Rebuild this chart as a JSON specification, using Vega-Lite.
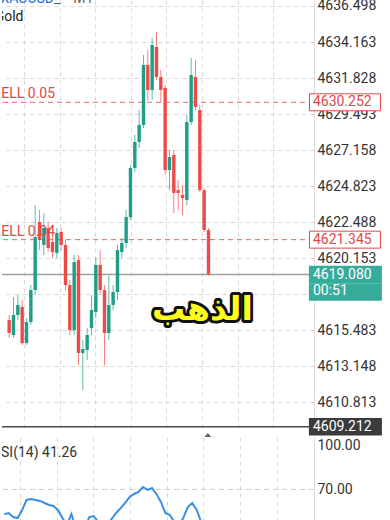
{
  "$schema": "https://vega.github.io/schema/vega-lite/v6.json",
  "padding": {"left": 0, "right": 0, "top": -2, "bottom": 0},
  "background": "white",
  "bounds": "flush",
  "spacing": 7,
  "resolve": {"scale": {"y": "independent"}},
  "config": {
    "view": {"stroke": null},
    "font": "Roboto",
    "axis": {
      "labelFont": "Roboto",
      "labelFontSize": 14,
      "labelColor": "#333333",
      "labelOverlap": false,
      "labelFlush": false,
      "ticks": false,
      "labelPadding": 3,
      "domainColor": "#dcdcdc",
      "gridColor": "#d6d6d6",
      "gridDash": [4, 4],
      "title": null
    }
  },
  "datasets": {
    "candles": [
      {"i":1,"o":4616.13,"c":4615.29,"h":4616.46,"l":4614.97},
      {"i":2,"o":4615.16,"c":4616.46,"h":4617.62,"l":4614.97},
      {"i":3,"o":4616.46,"c":4617.11,"h":4617.75,"l":4616.13},
      {"i":4,"o":4616.98,"c":4614.64,"h":4617.43,"l":4614.51},
      {"i":5,"o":4614.64,"c":4616.00,"h":4616.26,"l":4614.51},
      {"i":6,"o":4616.00,"c":4618.08,"h":4618.40,"l":4615.81},
      {"i":7,"o":4618.08,"c":4621.52,"h":4623.59,"l":4617.75},
      {"i":8,"o":4622.49,"c":4621.32,"h":4623.27,"l":4620.67},
      {"i":9,"o":4621.00,"c":4622.10,"h":4623.07,"l":4620.35},
      {"i":10,"o":4622.10,"c":4620.80,"h":4622.49,"l":4620.54},
      {"i":11,"o":4621.19,"c":4620.54,"h":4621.58,"l":4620.15},
      {"i":12,"o":4620.48,"c":4621.78,"h":4622.10,"l":4620.15},
      {"i":13,"o":4621.84,"c":4621.00,"h":4622.10,"l":4620.67},
      {"i":14,"o":4621.00,"c":4618.40,"h":4621.32,"l":4618.08},
      {"i":15,"o":4618.40,"c":4615.48,"h":4618.73,"l":4615.16},
      {"i":16,"o":4615.48,"c":4619.89,"h":4620.35,"l":4615.16},
      {"i":17,"o":4620.02,"c":4613.99,"h":4620.35,"l":4613.21},
      {"i":18,"o":4613.99,"c":4614.25,"h":4614.84,"l":4611.59},
      {"i":19,"o":4614.19,"c":4615.16,"h":4615.61,"l":4613.54},
      {"i":20,"o":4615.61,"c":4616.78,"h":4617.75,"l":4615.16},
      {"i":21,"o":4616.65,"c":4619.70,"h":4620.15,"l":4616.26},
      {"i":22,"o":4619.70,"c":4618.08,"h":4620.67,"l":4617.75},
      {"i":23,"o":4618.08,"c":4615.29,"h":4618.40,"l":4613.21},
      {"i":24,"o":4615.29,"c":4617.11,"h":4618.99,"l":4614.84},
      {"i":25,"o":4617.11,"c":4617.95,"h":4618.40,"l":4616.78},
      {"i":26,"o":4617.95,"c":4620.67,"h":4621.00,"l":4617.43},
      {"i":27,"o":4620.54,"c":4621.13,"h":4621.45,"l":4620.15},
      {"i":28,"o":4621.13,"c":4622.81,"h":4623.27,"l":4620.80},
      {"i":29,"o":4622.81,"c":4625.99,"h":4626.19,"l":4622.62},
      {"i":30,"o":4625.99,"c":4627.68,"h":4628.13,"l":4625.73},
      {"i":31,"o":4627.68,"c":4628.78,"h":4629.75,"l":4627.29},
      {"i":32,"o":4628.78,"c":4632.67,"h":4633.32,"l":4628.59},
      {"i":33,"o":4632.67,"c":4631.05,"h":4633.64,"l":4630.40},
      {"i":34,"o":4631.05,"c":4633.97,"h":4634.42,"l":4630.40},
      {"i":35,"o":4633.84,"c":4631.89,"h":4634.81,"l":4631.70},
      {"i":36,"o":4631.89,"c":4631.05,"h":4632.35,"l":4630.27},
      {"i":37,"o":4631.18,"c":4625.86,"h":4631.37,"l":4625.54},
      {"i":38,"o":4625.86,"c":4626.70,"h":4627.16,"l":4624.56},
      {"i":39,"o":4626.83,"c":4624.37,"h":4627.16,"l":4623.07},
      {"i":40,"o":4624.56,"c":4624.37,"h":4625.21,"l":4623.27},
      {"i":41,"o":4624.24,"c":4624.05,"h":4624.89,"l":4622.94},
      {"i":42,"o":4623.92,"c":4628.97,"h":4629.43,"l":4623.59},
      {"i":43,"o":4628.97,"c":4632.02,"h":4633.13,"l":4628.78},
      {"i":44,"o":4631.89,"c":4629.95,"h":4633.00,"l":4629.75},
      {"i":45,"o":4629.75,"c":4624.56,"h":4630.08,"l":4624.43},
      {"i":46,"o":4624.56,"c":4621.97,"h":4624.69,"l":4621.84},
      {"i":47,"o":4621.97,"c":4619.08,"h":4622.10,"l":4619.02}
    ],
    "rsi": [
      {"i":1,"v":53},{"i":2,"v":53.8},{"i":3,"v":51},{"i":4,"v":50.3},{"i":5,"v":55.9},
      {"i":6,"v":62.8},{"i":7,"v":63.4},{"i":8,"v":62.8},{"i":9,"v":62.1},{"i":10,"v":60.7},
      {"i":11,"v":59.3},{"i":12,"v":58.6},{"i":13,"v":55.9},{"i":14,"v":50.3},{"i":15,"v":45.5},
      {"i":16,"v":53.1},{"i":17,"v":43.4},{"i":18,"v":38.6},{"i":19,"v":43},{"i":20,"v":51},
      {"i":21,"v":51.7},{"i":22,"v":47.6},{"i":23,"v":40.7},{"i":24,"v":45.5},{"i":25,"v":49.7},
      {"i":26,"v":53.8},{"i":27,"v":57.2},{"i":28,"v":60.7},{"i":29,"v":64.8},{"i":30,"v":66.9},
      {"i":31,"v":68.3},{"i":32,"v":71.7},{"i":33,"v":69.7},{"i":34,"v":71},{"i":35,"v":66.9},
      {"i":36,"v":61.4},{"i":37,"v":53.8},{"i":38,"v":52.4},{"i":39,"v":47.6},{"i":40,"v":45.5},
      {"i":41,"v":50.3},{"i":42,"v":57.9},{"i":43,"v":60.7},{"i":44,"v":55.9},{"i":45,"v":47.6},
      {"i":46,"v":42},{"i":47,"v":41.26}
    ]
  },
  "vconcat": [
    {
      "width": 312,
      "height": 430,
      "layer": [
        {
          "data": {"values": [{"price": 4630.252}, {"price": 4621.345}]},
          "mark": {"type": "rule", "color": "#e46a6a", "strokeDash": [5, 4], "strokeWidth": 1},
          "encoding": {
            "y": {
              "field": "price", "type": "quantitative",
              "scale": {"domain": [4609.0, 4636.887], "nice": false, "zero": false},
              "axis": {
                "orient": "right",
                "values": [4636.498, 4634.163, 4631.828, 4629.493, 4627.158, 4624.823, 4622.488, 4620.153, 4617.818, 4615.483, 4613.148, 4610.813],
                "tickCount": 30,
                "format": ".3f",
                "labelOverlap": false,
                "labelBound": false,
                "labelFlush": false,
                "grid": true,
                "domain": true
              }
            }
          }
        },
        {
          "data": {"values": [{"price": 4619.080}]},
          "mark": {"type": "rule", "color": "#9e9e9e", "strokeWidth": 1.5},
          "encoding": {"y": {"field": "price", "type": "quantitative"}}
        },
        {
          "data": {"values": [{"price": 4609.212}]},
          "mark": {"type": "rule", "color": "#4a4a4a", "strokeWidth": 1.5},
          "encoding": {"y": {"field": "price", "type": "quantitative"}}
        },
        {
          "data": {"name": "candles"},
          "mark": {"type": "rule", "strokeWidth": 1, "opacity": 0.7},
          "encoding": {
            "x": {
              "field": "i", "type": "quantitative",
              "scale": {"domain": [0.5, 70.2], "nice": false, "zero": false},
              "axis": {"labels": false, "ticks": false, "domain": false, "grid": true, "tickCount": 30, "values": [4.5, 12.7, 20.9, 29.1, 37.3, 45.5, 53.7, 61.9]}
            },
            "y": {"field": "l", "type": "quantitative"},
            "y2": {"field": "h"},
            "color": {"condition": {"test": "datum.c >= datum.o", "value": "#1e9e86"}, "value": "#ee4a4a"}
          }
        },
        {
          "data": {"name": "candles"},
          "mark": {"type": "bar", "width": 3.4},
          "encoding": {
            "x": {"field": "i", "type": "quantitative"},
            "y": {"field": "o", "type": "quantitative"},
            "y2": {"field": "c"},
            "color": {"condition": {"test": "datum.c >= datum.o", "value": "#1e9e86"}, "value": "#ee4a4a"}
          }
        },
        {
          "data": {"values": [{"price": 4630.252, "label": "SELL 0.05"}, {"price": 4621.345, "label": "SELL 0.04"}]},
          "mark": {"type": "text", "align": "right", "baseline": "middle", "dy": -8, "fontSize": 14, "color": "#e04848", "clip": true},
          "encoding": {
            "x": {"datum": 11.6},
            "y": {"field": "price", "type": "quantitative"},
            "text": {"field": "label"}
          }
        },
        {
          "data": {"values": [{"label": "XAUUSD_"}]},
          "mark": {"type": "text", "align": "right", "baseline": "alphabetic", "fontSize": 14, "color": "#1f6fd6", "clip": true},
          "encoding": {"x": {"datum": 12.8}, "y": {"datum": 4636.69}, "text": {"field": "label"}}
        },
        {
          "data": {"values": [{"label": "• M1"}]},
          "mark": {"type": "text", "align": "left", "baseline": "alphabetic", "fontSize": 14, "color": "#666666", "clip": true},
          "encoding": {"x": {"datum": 13.9}, "y": {"datum": 4636.69}, "text": {"field": "label"}}
        },
        {
          "data": {"values": [{"label": "Gold"}]},
          "mark": {"type": "text", "align": "right", "baseline": "alphabetic", "fontSize": 14, "color": "#222222", "clip": true},
          "encoding": {"x": {"datum": 4.3}, "y": {"datum": 4635.525}, "text": {"field": "label"}}
        },
        {
          "data": {"values": [{"label": "الذهب"}]},
          "mark": {"type": "text", "align": "center", "baseline": "middle", "font": "DejaVu Sans", "fontWeight": "bold", "fontSize": 33, "color": "#111111", "stroke": "#111111", "strokeWidth": 6, "strokeJoin": "round"},
          "encoding": {"x": {"datum": 45.6}, "y": {"datum": 4616.75}, "text": {"field": "label"}}
        },
        {
          "data": {"values": [{"label": "الذهب"}]},
          "mark": {"type": "text", "align": "center", "baseline": "middle", "font": "DejaVu Sans", "fontWeight": "bold", "fontSize": 33, "color": "#ffff1a"},
          "encoding": {"x": {"datum": 45.6}, "y": {"datum": 4616.75}, "text": {"field": "label"}}
        },
        {
          "data": {"values": [{"label": "▲"}]},
          "mark": {"type": "point", "shape": "M-1,0.57L1,0.57L0,-0.57Z", "size": 49, "filled": true, "color": "#666666", "opacity": 1},
          "encoding": {"x": {"datum": 46.86}, "y": {"datum": 4608.67}}
        },
        {
          "data": {"values": [{"price": 4630.252, "label": "4630.252"}, {"price": 4621.345, "label": "4621.345"}]},
          "mark": {"type": "point", "shape": "M-1,-0.239H1V0.239H-1Z", "size": 5041, "filled": true, "fill": "#ffffff", "stroke": "#e04848", "strokeWidth": 1, "opacity": 1},
          "encoding": {"x": {"datum": 78.5}, "y": {"field": "price", "type": "quantitative"}}
        },
        {
          "data": {"values": [{"price": 4619.080, "label": "4619.080"}, {"price": 4617.95, "label": "00:51"}]},
          "mark": {"type": "point", "shape": "M-1,-0.239H1V0.239H-1Z", "size": 5329, "filled": true, "color": "#35ad9a", "opacity": 1},
          "encoding": {"x": {"datum": 78.6}, "y": {"field": "price", "type": "quantitative"}}
        },
        {
          "data": {"values": [{"price": 4609.212, "label": "4609.212"}]},
          "mark": {"type": "point", "shape": "M-1,-0.239H1V0.239H-1Z", "size": 5329, "filled": true, "color": "#3b3b3b", "opacity": 1},
          "encoding": {"x": {"datum": 78.6}, "y": {"field": "price", "type": "quantitative"}}
        },
        {
          "data": {"values": [{"price": 4630.252, "label": "4630.252"}, {"price": 4621.345, "label": "4621.345"}]},
          "mark": {"type": "text", "align": "left", "baseline": "middle", "fontSize": 14, "color": "#e04848"},
          "encoding": {"x": {"datum": 71.1}, "y": {"field": "price", "type": "quantitative"}, "text": {"field": "label"}}
        },
        {
          "data": {"values": [{"price": 4619.080, "label": "4619.080"}, {"price": 4618.04, "label": "00:51"}, {"price": 4609.212, "label": "4609.212"}]},
          "mark": {"type": "text", "align": "left", "baseline": "middle", "fontSize": 14, "color": "#ffffff"},
          "encoding": {"x": {"datum": 71.1}, "y": {"field": "price", "type": "quantitative"}, "text": {"field": "label"}}
        }
      ]
    },
    {
      "width": 312,
      "height": 154,
      "layer": [
        {
          "data": {"values": [{"lvl": 70}, {"lvl": 30}]},
          "mark": {"type": "rule", "color": "#cfcfcf", "strokeDash": [5, 4], "strokeWidth": 1},
          "encoding": {
            "y": {
              "field": "lvl", "type": "quantitative",
              "scale": {"domain": [0, 106.2], "nice": false, "zero": false},
              "axis": {"orient": "right", "values": [100, 70, 30, 0], "tickCount": 10, "format": ".2f", "labelOverlap": false, "grid": false, "domain": true}
            }
          }
        },
        {
          "data": {"name": "rsi"},
          "mark": {"type": "line", "color": "#3a8fe0", "strokeWidth": 2},
          "encoding": {
            "x": {
              "field": "i", "type": "quantitative",
              "scale": {"domain": [0.5, 70.2], "nice": false, "zero": false},
              "axis": {"labels": false, "ticks": false, "domain": false, "grid": true, "tickCount": 30, "values": [4.5, 12.7, 20.9, 29.1, 37.3, 45.5, 53.7, 61.9]}
            },
            "y": {"field": "v", "type": "quantitative"}
          }
        },
        {
          "data": {"values": [{"label": "RSI(14) 41.26"}]},
          "mark": {"type": "text", "align": "right", "baseline": "middle", "fontSize": 14, "color": "#333333", "clip": true},
          "encoding": {"x": {"datum": 17.3}, "y": {"datum": 95.5}, "text": {"field": "label"}}
        }
      ]
    }
  ]
}
